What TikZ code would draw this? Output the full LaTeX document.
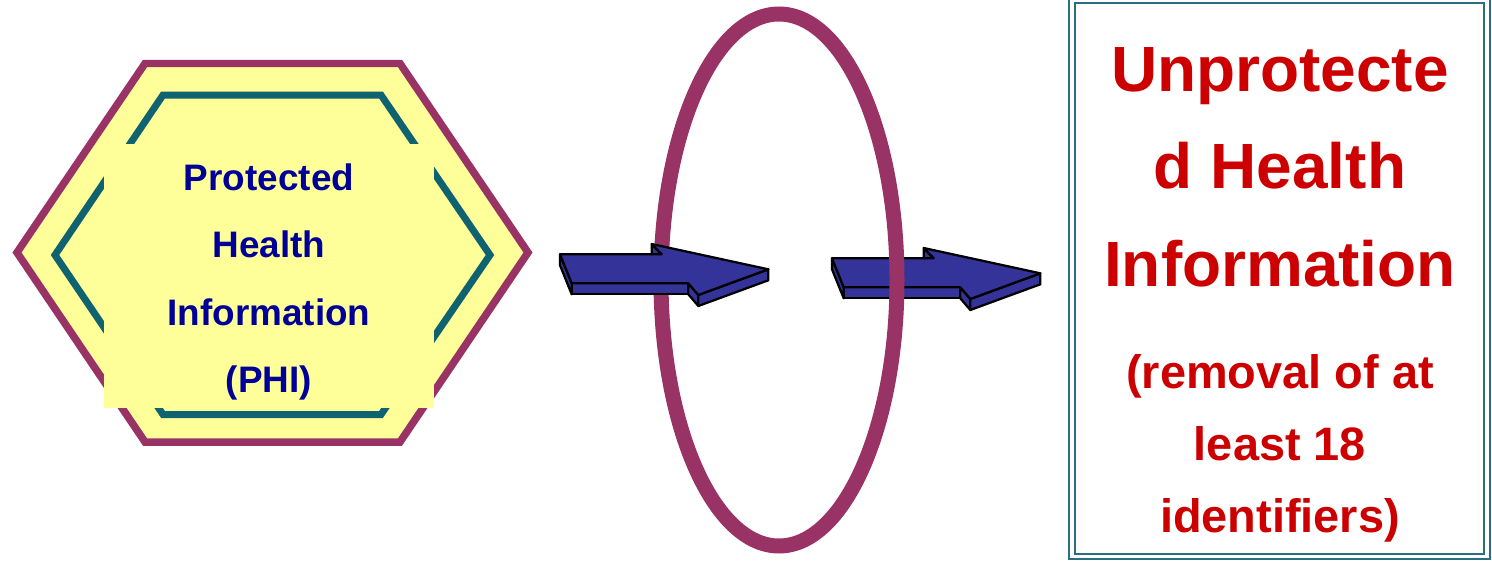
\documentclass[tikz,border=0pt]{standalone}
\usepackage{fontspec}
\setmainfont{Liberation Sans}
\definecolor{hexpurple}{HTML}{993366}
\definecolor{hexteal}{HTML}{0F6370}
\definecolor{hexyellow}{HTML}{FFFF99}
\definecolor{arrowblue}{HTML}{333399}
\definecolor{phinavy}{HTML}{000099}
\definecolor{phired}{HTML}{CC0000}
\definecolor{boxteal}{HTML}{2A6F80}
\tikzset{
    arrowface/.style={fill=arrowblue, draw=black, line width=0.045cm, line join=round},
    pics/blockarrow/.style={code={
        % side faces first, top face last
        \draw[arrowface] (0,0) -- (0,11) -- (11.7,40) -- (11.7,29) -- cycle;
        \draw[arrowface] (11.7,29) -- (11.7,40) -- (128.3,40) -- (128.3,29) -- cycle;
        \draw[arrowface] (128.3,29) -- (128.3,40) -- (138.3,51.7) -- (138.3,40.7) -- cycle;
        \draw[arrowface] (138.3,40.7) -- (138.3,51.7) -- (208.3,26) -- (208.3,15) -- cycle;
        \draw[arrowface] (91.7,-10.3) -- (91.7,0.7) -- (101.7,11) -- (101.7,0) -- cycle;
        \draw[arrowface] (0,0) -- (101.7,0) -- (91.7,-10.3) -- (208.3,15) -- (138.3,40.7)
            -- (128.3,29) -- (11.7,29) -- cycle;
    }}
}
\begin{document}
\begin{tikzpicture}[x=0.02cm, y=-0.02cm,
        hexline/.style={line width=0.15cm, draw=hexpurple, line join=miter},
        innerline/.style={line width=0.14cm, draw=hexteal, line join=miter},
        ringline/.style={line width=0.3cm, draw=hexpurple}]
    \useasboundingbox (0,0) rectangle (1492,561);

    % Hexagon
    \filldraw[hexline, fill=hexyellow] (145,63.5) -- (400,63.5) -- (528,252.5) -- (400,442)
        -- (145,442) -- (17,252.5) -- cycle;
    \draw[innerline] (163,95) -- (381,95) -- (490,255) -- (381,414.5)
        -- (163,414.5) -- (55,255) -- cycle;
    \node[rectangle, fill=hexyellow, inner sep=0pt, minimum width=6.62cm, minimum height=5.3cm]
        (phibox) at (269,276) {};
    \node[align=center, text=phinavy, font=\bfseries\fontsize{21}{38.4}\selectfont]
        (phi) at ([yshift=-0.12cm]phibox.center) {
        Protected\\
        Health\\
        Information\\
        (PHI)
    };

    % Arrows and ring
    \pic (arrowout) at (832,258.3) {blockarrow};
    \draw[ringline] (779,280) ellipse [x radius=118, y radius=266];
    \pic (arrowin) at (560,254.3) {blockarrow};

    % Result box
    \node[rectangle, draw=boxteal, line width=0.04cm, double=white, double distance=0.07cm,
        minimum width=8.31cm, minimum height=11.13cm, inner sep=0pt] (unprot) at (1279.5,278.3) {};
    \node[align=center, text=phired, font=\bfseries\fontsize{36.4}{55.5}\selectfont] (title) at (1280,167) {
        Unprotecte\\
        d Health\\
        Information
    };
    \node[align=center, text=phired, font=\bfseries\fontsize{26.7}{41}\selectfont] (note) at (1280,448) {
        (removal of at\\
        least 18\\
        identifiers)
    };
\end{tikzpicture}
\end{document}
